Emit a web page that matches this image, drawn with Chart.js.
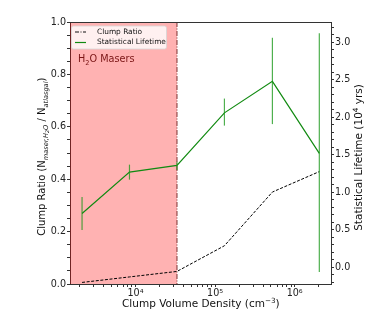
<!DOCTYPE html>
<html>
<head>
<meta charset="utf-8">
<script src="https://cdn.jsdelivr.net/npm/chart.js@4.4.0/dist/chart.umd.min.js"></script>
<style>
  html, body { margin: 0; padding: 0; background: #fff; }
</style>
</head>
<body>
<canvas id="chart" width="390" height="316"></canvas>
<script>
// --- DATA ---
const density = [2130, 8400, 33200, 131000, 525000, 2040000];
const clumpRatio = [0.006, 0.027, 0.048, 0.146, 0.351, 0.429];
const lifetime = [0.72, 1.27, 1.36, 2.06, 2.48, 1.52];
const lifetimeHi = [0.94, 1.37, 1.41, 2.25, 3.06, 3.12];
const lifetimeLo = [0.50, 1.17, 1.30, 1.89, 1.91, -0.06];
const maserLimit = 33200;   // end of the shaded H2O maser band
const leftTicks = [0, 0.2, 0.4, 0.6, 0.8, 1.0];
const rightTicks = [0, 0.5, 1.0, 1.5, 2.0, 2.5, 3.0];
const xTicks = [1e4, 1e5, 1e6];

const FONT = "'DejaVu Sans', sans-serif";
const SUP = { '0': '⁰', '1': '¹', '2': '²', '3': '³', '4': '⁴', '5': '⁵', '6': '⁶' };

// draw a row of text pieces (for sub/superscripts), optionally rotated
function drawRuns(ctx, runs, x, y, angle, align) {
  ctx.save();
  ctx.translate(x, y);
  ctx.rotate(angle);
  let total = 0;
  runs.forEach(r => {
    ctx.font = (r.italic ? 'italic ' : '') + r.size + 'px ' + FONT;
    r.w = ctx.measureText(r.t).width;
    total += r.w;
  });
  let cx = align === 'center' ? -total / 2 : 0;
  ctx.textBaseline = 'alphabetic';
  ctx.textAlign = 'left';
  runs.forEach(r => {
    ctx.font = (r.italic ? 'italic ' : '') + r.size + 'px ' + FONT;
    ctx.fillText(r.t, cx, r.dy || 0);
    cx += r.w;
  });
  ctx.restore();
}

const near = (a, b) => Math.abs(a - b) < 1e-6;

const overlay = {
  id: 'overlay',
  beforeDatasetsDraw(chart) {
    const { ctx, chartArea: a, scales } = chart;
    const xr = scales.x.getPixelForValue(maserLimit);
    ctx.save();
    ctx.fillStyle = 'rgba(255,0,0,0.3)';
    ctx.fillRect(a.left, a.top, xr - a.left, a.bottom - a.top);
    ctx.strokeStyle = 'rgba(120,40,40,0.8)';
    ctx.lineWidth = 1.2;
    ctx.setLineDash([5, 1.5, 1, 1.5]);
    ctx.beginPath();
    ctx.moveTo(xr, a.top);
    ctx.lineTo(xr, a.bottom);
    ctx.stroke();
    ctx.setLineDash([]);
    ctx.fillStyle = '#7a1414';
    drawRuns(ctx, [
      { t: 'H', size: 9.7 },
      { t: '2', size: 6.6, dy: 2.5 },
      { t: 'O Masers', size: 9.7 }
    ], a.left + 8, 62, 0, 'left');
    ctx.restore();
  },
  afterDatasetsDraw(chart) {
    const { ctx, scales } = chart;
    ctx.save();
    // error bars on the lifetime series
    ctx.strokeStyle = 'rgba(20,150,20,0.75)';
    ctx.lineWidth = 1.2;
    density.forEach((d, i) => {
      const x = scales.x.getPixelForValue(d);
      ctx.beginPath();
      ctx.moveTo(x, scales.y2.getPixelForValue(lifetimeHi[i]));
      ctx.lineTo(x, scales.y2.getPixelForValue(lifetimeLo[i]));
      ctx.stroke();
    });
    // legend box
    ctx.fillStyle = 'rgba(255,255,255,0.8)';
    ctx.strokeStyle = '#d6d6d6';
    ctx.lineWidth = 0.8;
    ctx.beginPath();
    ctx.roundRect(71.5, 26, 95, 23, 2);
    ctx.fill();
    ctx.stroke();
    ctx.lineWidth = 1;
    ctx.strokeStyle = '#111';
    ctx.setLineDash([4, 1.5, 1, 1.5]);
    ctx.beginPath(); ctx.moveTo(75, 32); ctx.lineTo(86, 32); ctx.stroke();
    ctx.setLineDash([]);
    ctx.strokeStyle = '#118a11';
    ctx.lineWidth = 1.2;
    ctx.beginPath(); ctx.moveTo(75, 42.5); ctx.lineTo(86, 42.5); ctx.stroke();
    ctx.fillStyle = '#111';
    ctx.font = '7.4px ' + FONT;
    ctx.textBaseline = 'middle';
    ctx.fillText('Clump Ratio', 97, 32);
    ctx.fillText('Statistical Lifetime', 97, 42.5);
    ctx.restore();
  },
  afterDraw(chart) {
    const { ctx, chartArea: a } = chart;
    ctx.save();
    // top spine
    ctx.strokeStyle = '#333';
    ctx.lineWidth = 1;
    ctx.beginPath();
    ctx.moveTo(a.left, a.top + 0.5);
    ctx.lineTo(a.right, a.top + 0.5);
    ctx.stroke();
    ctx.fillStyle = '#111';
    // axis titles
    drawRuns(ctx, [
      { t: 'Clump Volume Density (cm', size: 10.5 },
      { t: '−3', size: 7.2, dy: -4.5 },
      { t: ')', size: 10.5 }
    ], 200.8, 307, 0, 'center');
    drawRuns(ctx, [
      { t: 'Clump Ratio (N', size: 10 },
      { t: 'maser,H', size: 6.6, italic: true, dy: 2.5 },
      { t: '2', size: 5, italic: true, dy: 4 },
      { t: 'O', size: 6.6, italic: true, dy: 2.5 },
      { t: ' / N', size: 10 },
      { t: 'atlasgal', size: 6.6, italic: true, dy: 2.5 },
      { t: ')', size: 10 }
    ], 45.3, 156.7, -Math.PI / 2, 'center');
    drawRuns(ctx, [
      { t: 'Statistical Lifetime (10', size: 10.5 },
      { t: '4', size: 7.2, dy: -4.5 },
      { t: ' yrs)', size: 10.5 }
    ], 362, 157.5, -Math.PI / 2, 'center');
    ctx.restore();
  }
};

const axisLine = { display: true, drawOnChartArea: false, drawTicks: true, tickLength: 3, color: '#333' };
const tickFont = { family: FONT, size: 9.6 };

new Chart(document.getElementById('chart'), {
  type: 'line',
  data: {
    datasets: [
      {
        label: 'Clump Ratio',
        data: density.map((d, i) => ({ x: d, y: clumpRatio[i] })),
        yAxisID: 'y',
        borderColor: '#000',
        borderWidth: 1,
        borderDash: [3, 1.6],
        pointRadius: 0,
        fill: false
      },
      {
        label: 'Statistical Lifetime',
        data: density.map((d, i) => ({ x: d, y: lifetime[i] })),
        yAxisID: 'y2',
        borderColor: '#118a11',
        borderWidth: 1.2,
        pointRadius: 0,
        fill: false
      }
    ]
  },
  options: {
    responsive: false,
    animation: false,
    layout: { padding: { top: 22, left: 0, right: 0, bottom: 0 } },
    plugins: { legend: { display: false }, tooltip: { enabled: false } },
    scales: {
      x: {
        type: 'logarithmic',
        position: 'bottom',
        min: 1503,
        max: 2.86e6,
        grid: axisLine,
        border: { display: true, color: '#333', width: 1 },
        ticks: {
          autoSkip: false, maxRotation: 0, padding: 1, color: '#222', font: tickFont,
          callback: v => xTicks.some(t => near(t, v)) ? '10' + SUP[String(Math.round(Math.log10(v)))] : ''
        },
        afterBuildTicks: s => {
          const t = [];
          for (let e = 3; e <= 6; e++) for (let m = 1; m <= 9; m++) {
            const v = m * Math.pow(10, e);
            if (v >= s.min && v <= s.max) t.push({ value: v });
          }
          s.ticks = t;
        },
        afterFit: s => { s.height = 32; }
      },
      y: {
        position: 'left',
        min: 0,
        max: 1.0,
        grid: axisLine,
        border: { display: true, color: '#333', width: 1 },
        ticks: {
          autoSkip: false, padding: 1, color: '#222', font: tickFont,
          callback: v => leftTicks.some(t => near(t, v)) ? v.toFixed(1) : ''
        },
        afterBuildTicks: s => {
          const t = [];
          for (let i = 0; i <= 20; i++) t.push({ value: i / 20 });
          s.ticks = t;
        },
        afterFit: s => { s.width = 70; }
      },
      y2: {
        position: 'right',
        min: -0.22,
        max: 3.27,
        grid: axisLine,
        border: { display: true, color: '#333', width: 1 },
        ticks: {
          autoSkip: false, padding: 1, color: '#222', font: tickFont,
          callback: v => rightTicks.some(t => near(t, v)) ? v.toFixed(1) : ''
        },
        afterBuildTicks: s => {
          const t = [];
          for (let i = -2; i <= 32; i++) t.push({ value: i / 10 });
          s.ticks = t;
        },
        afterFit: s => { s.width = 59; }
      }
    }
  },
  plugins: [overlay]
});
</script>
</body>
</html>
